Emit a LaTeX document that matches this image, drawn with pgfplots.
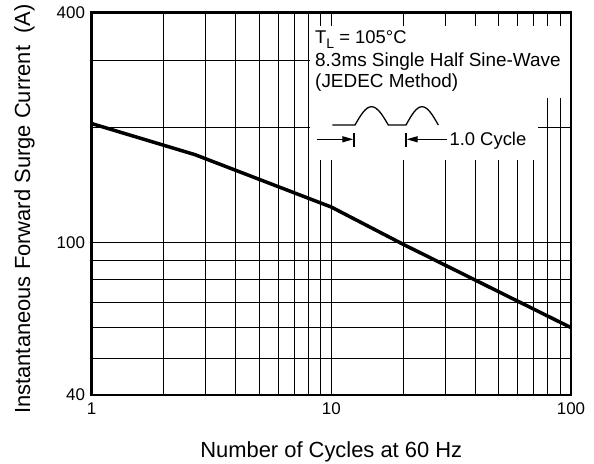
\documentclass[border=0pt]{standalone}
\usepackage{fontspec}
\setmainfont{Liberation Sans}
\usepackage{pgfplots}
\pgfplotsset{compat=1.18}
\usetikzlibrary{arrows.meta}

\begin{document}
\begin{tikzpicture}[x=1bp,y=1bp]
\path[use as bounding box] (0,0) rectangle (594,464);
\begin{axis}[
  at={(91.5bp,69bp)}, anchor=south west,
  width=479.5bp, height=382.5bp, scale only axis,
  xmode=log, ymode=log,
  xmin=1, xmax=100, ymin=40, ymax=400,
  xtick={1,10,100}, xticklabels={1,10,100},
  ytick={40,100,400}, yticklabels={40,100,400},
  minor xtick={2,3,4,5,6,7,8,9,20,30,40,50,60,70,80,90},
  minor ytick={50,60,70,80,90,200,300},
  grid=both,
  major grid style={black, line width=0.8bp},
  minor grid style={black, line width=0.8bp},
  major tick length=0pt, minor tick length=0pt,
  axis line style={line width=2.5bp},
  ticklabel style={font=\fontsize{17}{18}\selectfont},
  xticklabel style={yshift=-4bp},
  yticklabel style={xshift=-3bp},
  /pgf/number format/assume math mode=true,
  xlabel={Number of Cycles at 60 Hz},
  ylabel={Instantaneous Forward Surge Current\ \ (A)},
  label style={font=\fontsize{22}{24}\selectfont},
  xlabel style={at={(axis description cs:0.5,-0.164)}, anchor=base},
  ylabel style={at={(axis description cs:-0.128,0.486)}, anchor=base},
]
\addplot[black, line width=3.5bp] coordinates {(1,205) (2.7,170) (10,124) (20,99) (100,60)};
\end{axis}
\begin{scope}[shift={(0,464)}, yscale=-1]
\fill[white] (310,26) rectangle (569.6,98);
\fill[white] (310,97) rectangle (538,160);
\node[anchor=base west, inner sep=0, font=\fontsize{18.5}{20}\selectfont] at (315,44) {T\raisebox{-0.22em}{\fontsize{14}{14}\selectfont L} = 105°C};
\node[anchor=base west, inner sep=0, font=\fontsize{19}{20}\selectfont] at (315,66.7) {8.3ms Single Half Sine-Wave};
\node[anchor=base west, inner sep=0, font=\fontsize{19}{20}\selectfont] at (315,88) {(JEDEC Method)};
\draw[line width=1.3bp] (332.3,125) -- (355,125) sin (371.5,106.7) cos (388.3,125) -- (406,125) sin (422,106.7) cos (438.3,125);
\draw[line width=1.2bp] (354,132.7) -- (354,146.7);
\draw[line width=1.2bp] (406,132.7) -- (406,146.7);
\draw[line width=1.2bp, -{Triangle[length=11bp,width=6bp]}] (316.7,139.3) -- (353.3,139.3);
\draw[line width=1.2bp, -{Triangle[length=11bp,width=6bp]}] (446.7,139.3) -- (406.7,139.3);
\node[anchor=base west, inner sep=0, font=\fontsize{18.5}{20}\selectfont] at (449.3,146) {1.0 Cycle};
\end{scope}
\end{tikzpicture}
\end{document}
